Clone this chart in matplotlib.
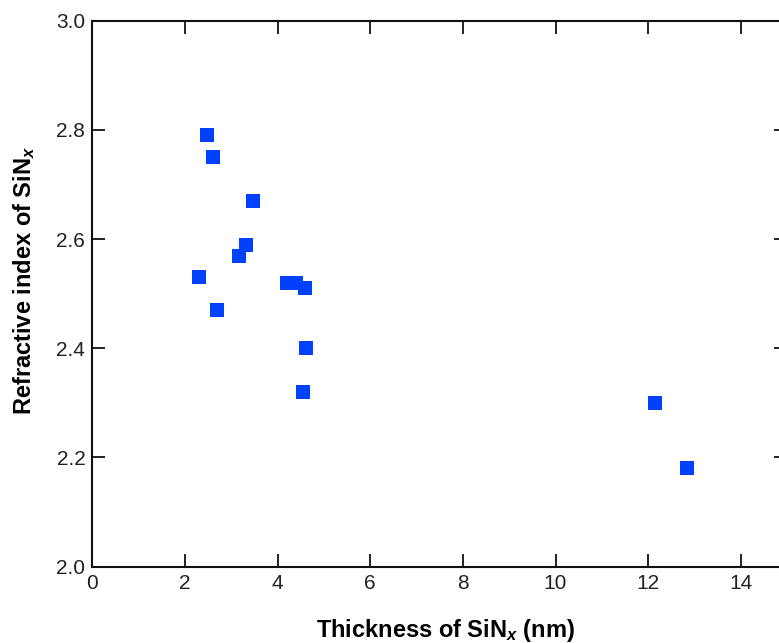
import matplotlib
matplotlib.use('Agg')
import matplotlib.pyplot as plt

# thickness (nm) and refractive index
thickness = [2.48, 2.61, 3.46, 3.32, 3.16, 2.31, 4.20, 4.39, 4.60, 2.70, 4.62, 4.54, 12.15, 12.84]
n_index = [2.79, 2.75, 2.67, 2.59, 2.57, 2.53, 2.52, 2.52, 2.51, 2.47, 2.40, 2.32, 2.30, 2.18]

xticks = [0, 2, 4, 6, 8, 10, 12, 14]
yticks = [2.0, 2.2, 2.4, 2.6, 2.8, 3.0]

plt.rcParams['font.family'] = ['Liberation Sans', 'DejaVu Sans']
plt.rcParams['mathtext.fontset'] = 'custom'
plt.rcParams['mathtext.it'] = 'Liberation Sans:italic:bold'
plt.rcParams['mathtext.rm'] = 'Liberation Sans:bold'

fig = plt.figure(figsize=(7.79, 6.43), dpi=100)
# axes runs past the right edge of the figure, as in the original crop
ax = fig.add_axes([0.1185, 0.1187, 0.892, 0.849])

ax.plot(thickness, n_index, linestyle='none', marker='s', markersize=10,
        color='#0041ff', markeredgewidth=0)

ax.set_xlim(0, 15)
ax.set_ylim(2.0, 3.0)
ax.set_xticks(xticks)
ax.set_yticks(yticks)
ax.set_yticklabels([f'{v:.1f}' for v in yticks])

ax.tick_params(direction='in', length=9.5, width=1.4, labelsize=15,
               top=True, right=True, pad=5, colors='#222222', labelcolor='#222222')
for s in ax.spines.values():
    s.set_linewidth(1.5)
    s.set_color('#111111')

ax.set_xlabel('Thickness of SiN$_x$ (nm)', fontsize=17, fontweight='bold')
ax.set_ylabel('Refractive index of SiN$_x$', fontsize=17, fontweight='bold')
ax.xaxis.set_label_coords(0.509, -0.093)
ax.yaxis.set_label_coords(-0.079, 0.525)

fig.savefig('out.png', dpi=100)
